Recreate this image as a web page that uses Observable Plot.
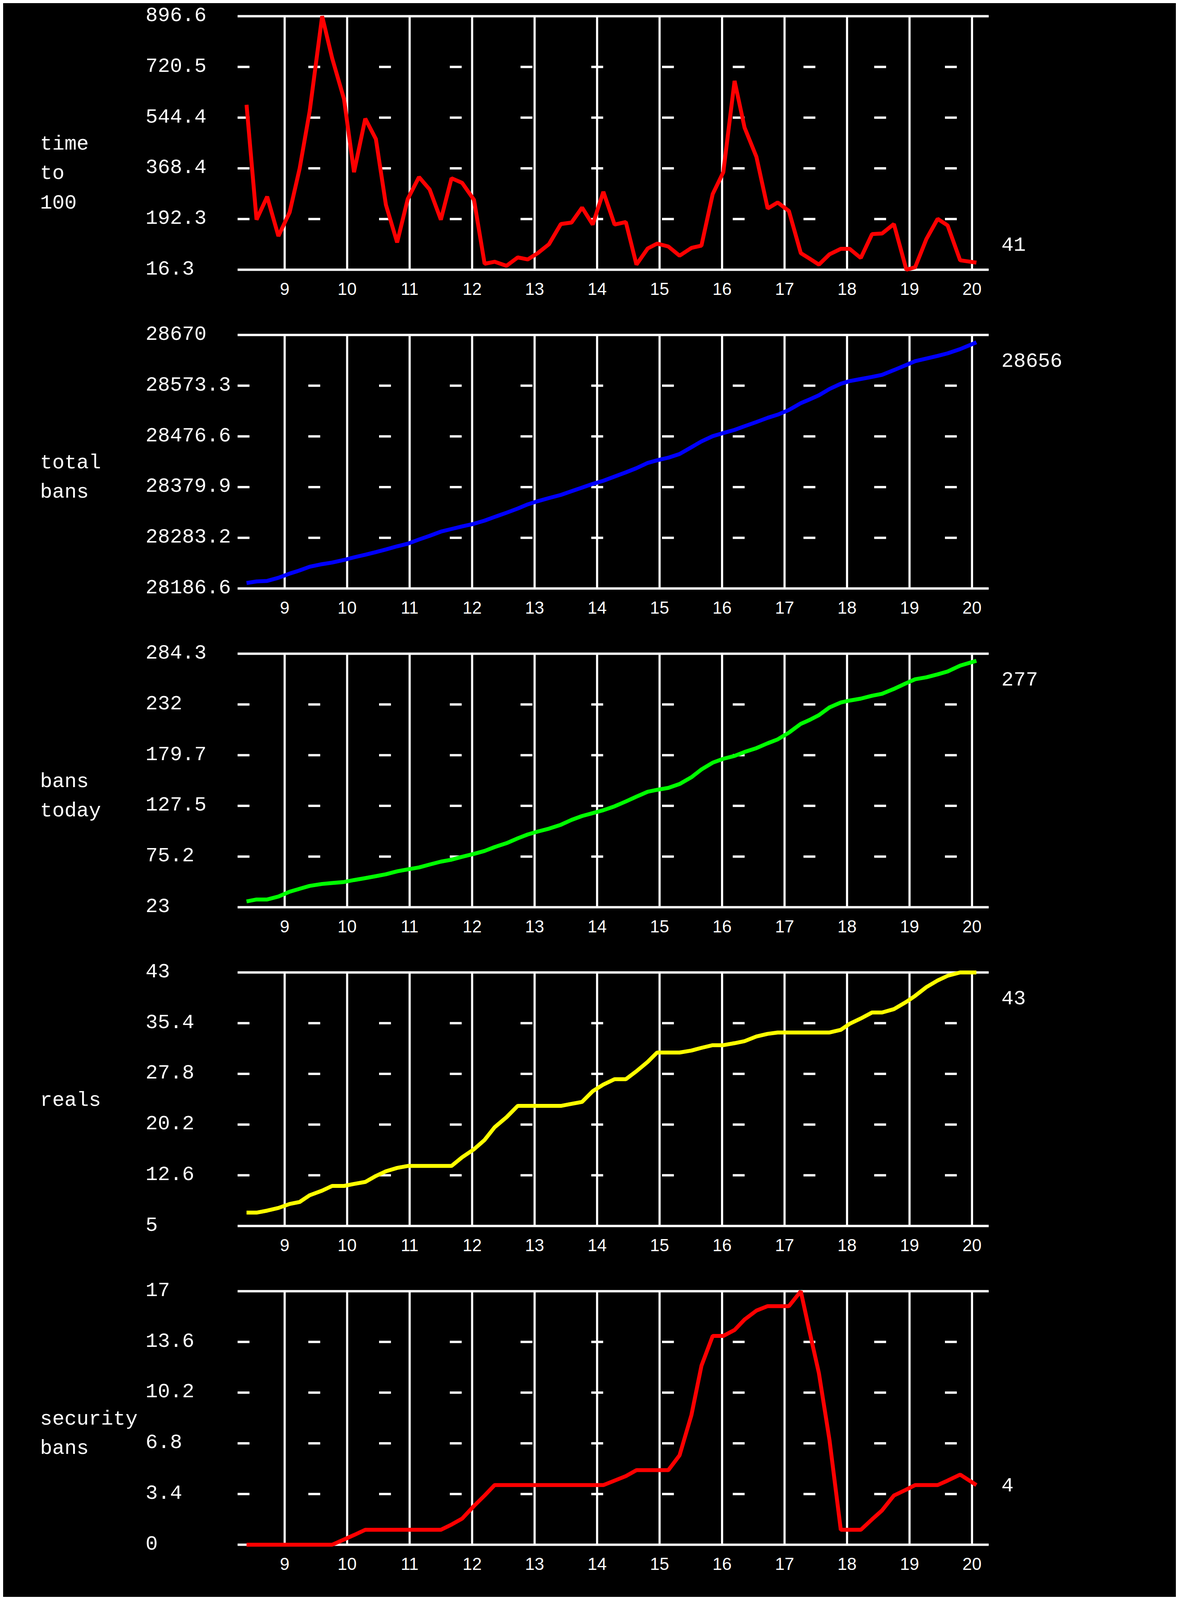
<!DOCTYPE html>
<html>
<head>
<meta charset="utf-8">
<script src="https://cdn.jsdelivr.net/npm/d3@7"></script>
<script src="https://cdn.jsdelivr.net/npm/@observablehq/plot@0.6"></script>
<style>
  html, body { overflow: hidden; }
  body { margin: 8px; background: #ffffff; }
  #chart { width: 3001px; background: #000000; overflow: hidden; }
  #chart svg { display: block; }
</style>
</head>
<body>
<div id="chart"></div>
<script>
// ---- data (hours of the day) ----
const hours = [
  8.39, 8.55, 8.72, 8.90, 9.08, 9.24, 9.40, 9.60, 9.76, 9.95,
  10.11, 10.29, 10.46, 10.62, 10.80, 10.97, 11.15, 11.32, 11.50, 11.67,
  11.84, 12.03, 12.20, 12.36, 12.55, 12.73, 12.89, 13.05, 13.23, 13.42,
  13.59, 13.76, 13.93, 14.10, 14.28, 14.46, 14.63, 14.81, 14.96, 15.14,
  15.32, 15.51, 15.67, 15.85, 16.02, 16.20, 16.36, 16.55, 16.73, 16.89,
  17.07, 17.26, 17.40, 17.55, 17.72, 17.90, 18.04, 18.22, 18.40, 18.56,
  18.75, 18.95, 19.09, 19.27, 19.45, 19.61, 19.81, 20.07
];
const timeTo100 = [
  589, 190, 270, 133, 216, 368, 566, 896.6, 751, 609,
  355, 541, 470, 242, 111, 262, 338, 295, 190, 334,
  318, 259, 37, 44, 30, 59, 52, 74, 105, 175,
  180, 232, 173, 287, 173, 182, 34, 90, 107, 97,
  65, 92, 100, 279, 355, 672, 510, 408, 229, 250,
  220, 74, 55, 34, 70, 89, 89, 57, 140, 142,
  175, 16.3, 25, 123, 193, 170, 49, 41
];
const totalBans = [
  28197, 28200, 28201, 28207, 28215, 28221, 28228, 28233, 28236, 28241,
  28246, 28251, 28256, 28261, 28267, 28272, 28280, 28287, 28295, 28300,
  28305, 28310, 28316, 28323, 28331, 28339, 28347, 28353, 28359, 28365,
  28372, 28379, 28386, 28392, 28400, 28408, 28416, 28426, 28431, 28436,
  28443, 28456, 28467, 28477, 28483, 28489, 28496, 28504, 28512, 28518,
  28527, 28540, 28547, 28555, 28567, 28577, 28582, 28586, 28590, 28594,
  28603, 28613, 28620, 28625, 28630, 28635, 28643, 28656
];
const bansToday = [
  29, 31, 31, 34, 39, 42, 45, 47, 48, 49,
  51, 53, 55, 57, 60, 62, 64, 67, 70, 72,
  75, 78, 81, 85, 89, 94, 98, 101, 104, 108,
  113, 117, 120, 123, 127, 132, 137, 142, 144, 146,
  150, 157, 165, 172, 176, 179, 183, 187, 192, 196,
  203, 212, 216, 221, 229, 234, 236, 238, 241, 243,
  248, 254, 258, 260, 263, 266, 272, 277
];
const reals = [
  7, 7, 7.3, 7.7, 8.3, 8.6, 9.6, 10.3, 11, 11,
  11.3, 11.6, 12.5, 13.2, 13.7, 14, 14, 14, 14, 14,
  15.3, 16.5, 17.9, 19.8, 21.3, 23, 23, 23, 23, 23,
  23.3, 23.6, 25.2, 26.2, 27, 27, 28.2, 29.6, 31, 31,
  31, 31.3, 31.7, 32.1, 32.1, 32.4, 32.7, 33.4, 33.8, 34,
  34, 34, 34, 34, 34, 34.4, 35.3, 36.1, 37, 37,
  37.5, 38.6, 39.5, 40.8, 41.8, 42.5, 43, 43
];
const securityBans = [
  0, 0, 0, 0, 0, 0, 0, 0, 0, 0.35,
  0.65, 1, 1, 1, 1, 1, 1, 1, 1, 1.35,
  1.75, 2.6, 3.3, 4, 4, 4, 4, 4, 4, 4,
  4, 4, 4, 4, 4.3, 4.6, 5, 5, 5, 5,
  6, 8.7, 12, 14, 14, 14.4, 15.1, 15.7, 16, 16,
  16, 17, 14.3, 11.5, 7.0, 1, 1, 1, 1.7, 2.3,
  3.3, 3.7, 4, 4, 4, 4.3, 4.7, 4
];

// ---- axis labels ----
const hourTicks = [9, 10, 11, 12, 13, 14, 15, 16, 17, 18, 19, 20];
const xDomain = [8.25, 20.27];
const ticksTime = ["16.3", "192.3", "368.4", "544.4", "720.5", "896.6"];
const ticksTotal = ["28186.6", "28283.2", "28379.9", "28476.6", "28573.3", "28670"];
const ticksToday = ["23", "75.2", "127.5", "179.7", "232", "284.3"];
const ticksReals = ["5", "12.6", "20.2", "27.8", "35.4", "43"];
const ticksSecurity = ["0", "3.4", "6.8", "10.2", "13.6", "17"];

const titleTime = ["time", "to", "100"];
const titleTotal = ["total", "bans"];
const titleToday = ["bans", "today"];
const titleReals = ["reals"];
const titleSecurity = ["security", "bans"];

const panels = [
  {title: titleTime, values: timeTo100, ticks: ticksTime, color: "#ff0000"},
  {title: titleTotal, values: totalBans, ticks: ticksTotal, color: "#0000ff"},
  {title: titleToday, values: bansToday, ticks: ticksToday, color: "#00ff00"},
  {title: titleReals, values: reals, ticks: ticksReals, color: "#ffff00"},
  {title: titleSecurity, values: securityBans, ticks: ticksSecurity, color: "#ff0000"}
];

// grid dash spacing (hours) used by the background marker dashes
const dashStep = 1.132;
const dashLen = 0.19;
const dashStarts = d3.range(11).map(k => xDomain[0] + k * dashStep);

const mono = "'Liberation Mono', 'DejaVu Sans Mono', monospace";
const sans = "'Liberation Sans', Arial, sans-serif";

// fit the five panels into the visible window height
const winH = window.innerHeight || 4817;
const chartH = Math.min(4801, winH - 16);
const panelH = Math.floor(chartH / 5);
const s = panelH / 960;

const chart = document.getElementById("chart");
chart.style.height = chartH + "px";

panels.forEach((p, idx) => {
  const h = idx === panels.length - 1 ? chartH - panelH * 4 : panelH;
  const mTop = Math.round(39 * s);
  const plotH = Math.round(763 * s);
  const tickVals = p.ticks.map(Number);
  const labelMap = new Map(p.ticks.map(t => [Number(t), t]));
  const yMin = tickVals[0], yMax = tickVals[tickVals.length - 1];
  const data = hours.map((hr, i) => ({h: hr, v: p.values[i]}));
  const innerTicks = tickVals.slice(1, -1);
  const dashes = [];
  innerTicks.forEach(y => dashStarts.forEach(x1 => dashes.push({y, x1, x2: x1 + dashLen})));
  const last = p.values[p.values.length - 1];
  const frac = Math.max(0.1, Math.min(0.9, (last - yMin) / (yMax - yMin)));
  const labelY = yMin + frac * (yMax - yMin);

  const svg = Plot.plot({
    width: 3001,
    height: h,
    marginLeft: 600,
    marginRight: 479,
    marginTop: mTop,
    marginBottom: h - mTop - plotH,
    x: {domain: xDomain},
    y: {domain: [yMin, yMax]},
    style: {background: "#000000", color: "#ffffff", fontFamily: mono, fontSize: "52px", overflow: "visible"},
    marks: [
      Plot.ruleX(hourTicks, {stroke: "#ffffff", strokeWidth: 5.5}),
      Plot.ruleY([yMin, yMax], {stroke: "#ffffff", strokeWidth: 6}),
      Plot.ruleY(dashes, {y: "y", x1: "x1", x2: "x2", stroke: "#ffffff", strokeWidth: 6}),
      Plot.axisX(hourTicks, {tickSize: 0, tickPadding: Math.round(39 * s), tickFormat: d => String(d),
        fontFamily: sans, fontSize: 44, fill: "#ffffff"}),
      Plot.axisY(tickVals, {tickSize: 0, tickPadding: 236, textAnchor: "start", dy: -5 * s,
        tickFormat: d => labelMap.get(d), fontFamily: mono, fontSize: 52, fill: "#ffffff"}),
      ...p.title.map((t, i) => Plot.text([t], {frameAnchor: "left", dx: -506, dy: i * 89 * s,
        textAnchor: "start", fontFamily: mono, fontSize: 52, fill: "#ffffff"})),
      Plot.line(data, {x: "h", y: "v", stroke: p.color, strokeWidth: 10,
        strokeLinejoin: "miter", strokeLinecap: "butt"}),
      Plot.text([String(last)], {frameAnchor: "right", y: labelY, dx: 32, textAnchor: "start",
        fontFamily: mono, fontSize: 52, fill: "#ffffff"})
    ]
  });
  chart.appendChild(svg);
});
</script>
</body>
</html>
